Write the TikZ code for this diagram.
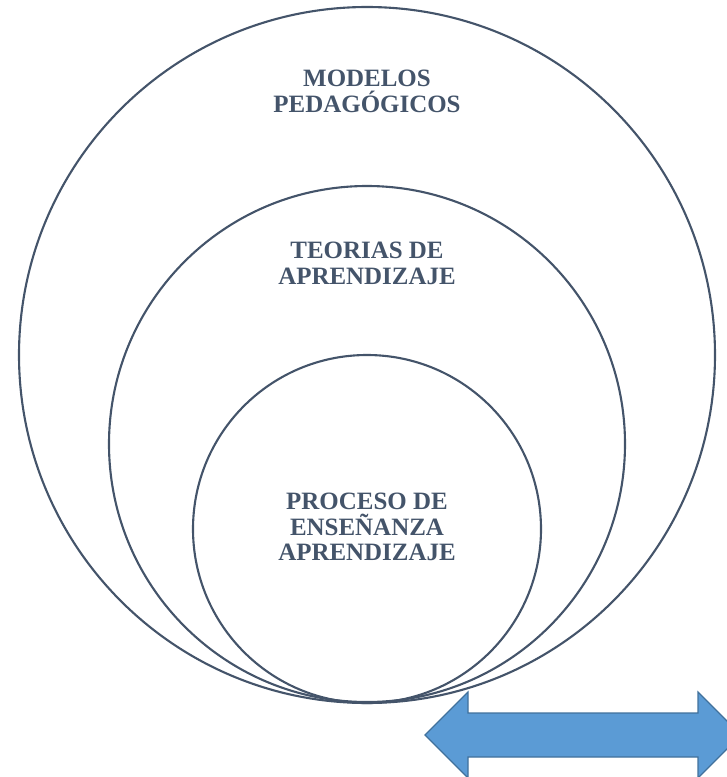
\documentclass[tikz,border=0pt]{standalone}
\usepackage{fontspec}
\setmainfont{Liberation Serif}
\usetikzlibrary{positioning}

\definecolor{ringgray}{HTML}{44546A}
\definecolor{arrowblue}{HTML}{5B9BD5}
\definecolor{arrowedge}{HTML}{41719C}

\begin{document}
\begin{tikzpicture}[x=0.03cm, y=-0.03cm,
    ring/.style={draw=ringgray, line width=1.8pt, circle, inner sep=0pt},
    label/.style={text=ringgray, font=\fontsize{21.3}{22}\selectfont\bfseries, align=center}]
  \useasboundingbox (0,0) rectangle (727,777);
  % the three circles
  \node [ring, minimum size=696*0.03cm] (modelos) at (367,355) {};
  \node [ring, minimum size=516*0.03cm] (teorias) at (367,444) {};
  \node [ring, minimum size=348*0.03cm] (proceso) at (367,529) {};
  % texts
  \node [label] (tmodelos) at (367,91) {MODELOS\\PEDAG\'OGICOS};
  \node [label] (tteorias) at (367,263) {TEORIAS DE\\APRENDIZAJE};
  \node [label] (tproceso) at (367,527) {PROCESO DE\\ENSE\~NANZA\\APRENDIZAJE};
  % double arrow
  \draw [fill=arrowblue, draw=arrowedge, line width=1pt]
    (425,735) -- (468,692) -- (468,713) -- (698,713) -- (698,692) -- (741,735)
    -- (698,778) -- (698,757) -- (468,757) -- (468,778) -- cycle;
\end{tikzpicture}
\end{document}
